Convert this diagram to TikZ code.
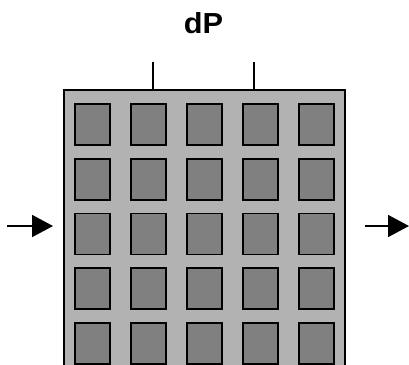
\documentclass[tikz,border=0pt]{standalone}
\usepackage{fontspec}
\setmainfont{Liberation Sans}
\usetikzlibrary{arrows.meta}
\definecolor{outergray}{RGB}{178,178,178}
\definecolor{cellgray}{RGB}{128,128,128}
\tikzset{
  outerbox/.style={draw=black, line width=1.8pt, fill=outergray, rectangle, inner sep=0pt, minimum width=281pt, minimum height=300pt},
  cell/.style={draw=black, line width=1.8pt, fill=cellgray, rectangle, inner sep=0pt, minimum width=35pt, minimum height=41pt},
  tick/.style={draw=black, line width=1.8pt},
  flow/.style={draw=black, line width=1.8pt, -{Triangle[length=21pt,width=22pt]}},
  lbl/.style={font=\bfseries\fontsize{29}{33}\selectfont, inner sep=0pt, xscale=1.06}
}
\begin{document}
\begin{tikzpicture}[x=1pt,y=-1pt]
\clip (0,0) rectangle (409,364);
\fill[white] (0,0) rectangle (409,364);
\node[outerbox, anchor=north west] (box) at (63,89) {};
\foreach \c in {0,...,4}{
  \foreach \r in {0,...,4}{
    \node[cell, anchor=north west] (c\c r\r) at ({74+56*\c},{103+54.75*\r}) {};
  }
}
\coordinate (t1) at (153,62);
\coordinate (t2) at (254,62);
\draw[tick] (t1) -- (t1 |- box.north);
\draw[tick] (t2) -- (t2 |- box.north);
\node[lbl, anchor=base] (dp) at (203.5,33.3) {dP};
\coordinate (inA) at (7,226);
\coordinate (inB) at (53,226);
\coordinate (outA) at (365,226);
\coordinate (outB) at (409,226);
\draw[flow] (inA) -- (inB);
\draw[flow] (outA) -- (outB);
\end{tikzpicture}
\end{document}
